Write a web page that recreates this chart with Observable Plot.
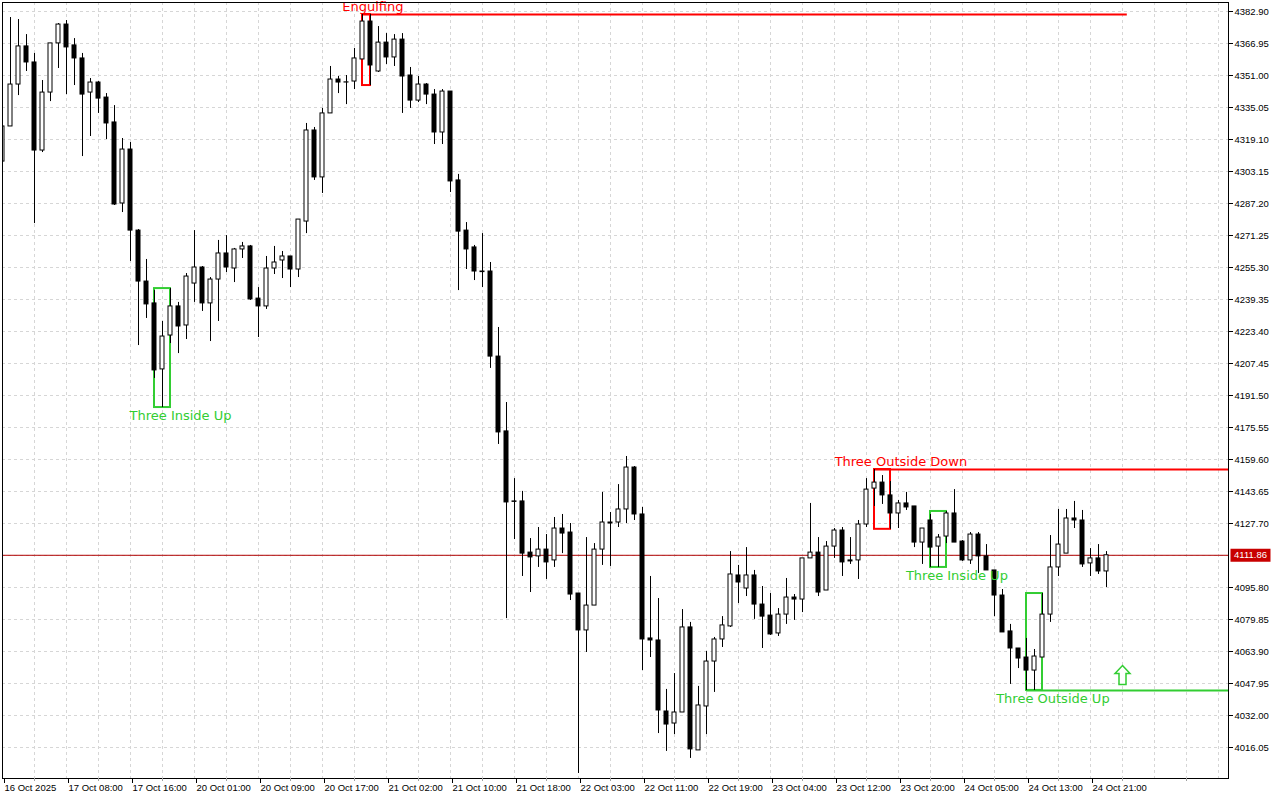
<!DOCTYPE html>
<html>
<head>
<meta charset="utf-8">
<script src="https://cdn.jsdelivr.net/npm/d3@7"></script>
<script src="https://cdn.jsdelivr.net/npm/@observablehq/plot@0.6"></script>
<style>
  html, body { margin: 0; padding: 0; background: #ffffff; }
  #chart svg { display: block; }
</style>
</head>
<body>
<div id="chart"></div>
<script>
// ---- Hourly OHLC bars (bar index 0 .. 138) ----
const opens = [
4308.1,4325.6,4346.5,4365.5,4357.5,4313.6,4342.5,4367.0,4376.4,4366.0,
4359.5,4342.5,4347.5,4340.0,4327.6,4287.2,4314.1,4273.7,4248.3,4237.4,
4204.5,4221.4,4235.9,4226.4,4247.3,4255.3,4237.4,4249.3,4262.3,4254.8,
4264.3,4265.8,4239.8,4235.9,4254.8,4258.8,4260.8,4254.3,4278.2,4323.6,
4300.2,4332.1,4349.0,4347.5,4348.0,4359.0,4377.9,4353.0,4367.4,4360.0,
4368.9,4351.0,4338.5,4346.5,4341.5,4322.6,4343.0,4298.7,4273.7,4265.3,
4253.3,4253.3,4210.9,4173.6,4138.7,4138.7,4113.2,4111.3,4114.7,4109.3,
4125.2,4123.2,4092.8,4074.4,4086.8,4114.7,4128.2,4128.2,4134.7,4155.6,
4132.2,4070.4,4069.4,4034.0,4028.0,4033.5,4075.9,4014.6,4036.5,4058.9,
4069.9,4076.4,4101.8,4095.3,4101.8,4087.3,4081.8,4072.9,4082.3,4090.8,
4089.8,4110.3,4113.2,4094.3,4116.2,4124.2,4109.3,4109.3,4127.2,4145.1,
4148.1,4141.7,4132.7,4137.7,4136.2,4118.2,4129.2,4116.2,4121.2,4132.7,
4118.7,4109.3,4122.2,4111.3,4104.3,4091.8,4073.9,4065.4,4060.9,4054.4,
4060.9,4082.3,4105.8,4112.7,4130.2,4129.2,4107.8,4110.3,4103.8
];
const highs = [
4328.6,4379.9,4378.9,4371.4,4362.0,4348.5,4367.0,4376.9,4378.4,4369.4,
4362.0,4349.5,4348.0,4342.0,4336.0,4319.6,4317.6,4274.2,4259.3,4243.8,
4228.4,4244.8,4237.9,4252.3,4273.7,4255.8,4250.3,4268.8,4271.2,4264.8,
4267.8,4266.3,4245.3,4260.8,4265.8,4263.3,4260.8,4279.2,4327.1,4325.1,
4334.6,4355.5,4350.5,4351.0,4364.5,4381.4,4381.4,4375.4,4371.9,4371.4,
4371.9,4355.0,4350.5,4347.0,4344.0,4344.0,4343.0,4301.7,4277.7,4266.3,
4272.2,4257.8,4225.4,4188.0,4150.1,4143.7,4120.2,4125.7,4122.2,4130.7,
4132.2,4127.7,4092.8,4120.7,4117.7,4143.2,4133.2,4147.1,4161.1,4156.1,
4135.7,4101.3,4090.3,4045.0,4052.9,4084.8,4078.4,4046.5,4063.9,4070.9,
4081.3,4113.7,4106.8,4115.7,4104.3,4096.3,4092.8,4085.3,4100.3,4092.3,
4110.3,4137.7,4120.7,4118.7,4125.2,4125.7,4120.7,4129.2,4150.1,4154.6,
4151.6,4148.6,4139.2,4143.2,4136.2,4125.2,4132.2,4122.2,4133.7,4144.6,
4119.2,4123.2,4123.2,4117.2,4104.3,4094.8,4077.4,4065.4,4070.4,4064.9,
4092.8,4121.7,4134.7,4134.7,4138.7,4134.2,4115.2,4117.2,4113.7
];
const lows = [
4307.6,4325.6,4341.0,4353.0,4277.2,4312.6,4338.0,4354.5,4341.5,4346.0,
4310.6,4320.6,4332.1,4319.1,4286.2,4282.7,4258.3,4216.4,4229.9,4200.0,
4185.5,4217.4,4212.4,4219.4,4237.9,4233.4,4218.4,4228.4,4252.8,4247.8,
4259.8,4238.9,4220.4,4234.4,4251.8,4249.8,4245.3,4250.3,4272.2,4298.7,
4292.2,4332.1,4342.0,4336.5,4344.0,4359.0,4346.0,4352.5,4356.5,4355.5,
4332.1,4334.6,4337.5,4336.5,4316.6,4316.6,4292.7,4243.8,4254.3,4248.8,
4245.3,4205.0,4167.1,4080.3,4119.7,4101.3,4093.3,4105.8,4099.8,4105.8,
4112.7,4089.3,4003.1,4063.4,4086.8,4106.8,4106.3,4125.7,4127.7,4129.2,
4054.4,4060.9,4023.0,4014.1,4022.5,4033.5,4010.6,4014.6,4022.5,4043.5,
4065.9,4075.9,4087.8,4091.3,4079.9,4065.4,4071.9,4071.4,4077.4,4079.4,
4083.3,4110.3,4091.3,4094.3,4110.3,4101.3,4107.3,4099.8,4125.7,4136.2,
4137.2,4124.8,4125.2,4134.2,4115.7,4107.3,4105.8,4105.8,4117.7,4118.2,
4108.8,4107.3,4102.8,4104.3,4081.3,4073.4,4047.5,4055.4,4044.5,4044.5,
4060.9,4078.4,4101.3,4112.7,4125.2,4105.8,4101.3,4102.3,4095.8
];
const closes = [
4325.6,4346.5,4365.5,4357.5,4313.6,4342.5,4367.0,4376.4,4365.0,4359.5,
4341.5,4347.5,4339.5,4327.1,4286.7,4314.1,4273.7,4248.3,4236.9,4204.0,
4220.9,4235.9,4225.9,4250.8,4255.3,4237.4,4249.3,4262.3,4255.3,4264.3,
4265.8,4239.4,4235.9,4254.8,4257.8,4260.8,4254.3,4279.2,4323.6,4300.2,
4332.1,4349.0,4347.5,4347.6,4359.5,4377.9,4356.0,4367.4,4360.0,4368.9,
4350.5,4338.5,4346.5,4341.5,4322.6,4343.0,4298.2,4273.2,4264.3,4253.3,
4253.0,4210.9,4173.1,4138.2,4138.5,4112.7,4110.8,4114.7,4108.3,4125.2,
4122.7,4092.3,4074.4,4086.8,4114.7,4128.2,4127.7,4134.7,4155.6,4132.2,
4069.9,4069.4,4034.5,4027.5,4033.5,4075.9,4015.1,4037.0,4058.9,4069.9,
4076.9,4102.3,4098.3,4101.8,4087.3,4081.3,4072.4,4082.3,4090.8,4089.8,
4110.3,4113.2,4093.3,4116.2,4124.2,4108.3,4108.8,4127.2,4144.6,4148.1,
4141.7,4132.7,4137.7,4135.7,4118.2,4125.2,4115.7,4120.7,4132.7,4118.2,
4109.3,4122.2,4111.3,4104.3,4091.8,4073.4,4065.4,4060.4,4054.4,4061.4,
4082.3,4105.8,4117.2,4130.2,4129.2,4107.3,4110.3,4103.8,4111.86
];

// ---- Time axis labels (bar index of each label) ----
const timeLabelBars = [0, 8, 16, 24, 32, 40, 48, 56, 64, 72, 80, 88, 96, 104, 112, 120, 128, 136];
const timeLabels = [
  "16 Oct 2025", "17 Oct 08:00", "17 Oct 16:00", "20 Oct 01:00", "20 Oct 09:00",
  "20 Oct 17:00", "21 Oct 02:00", "21 Oct 10:00", "21 Oct 18:00", "22 Oct 03:00",
  "22 Oct 11:00", "22 Oct 19:00", "23 Oct 04:00", "23 Oct 12:00", "23 Oct 20:00",
  "24 Oct 05:00", "24 Oct 13:00", "24 Oct 21:00"
];

// ---- Price axis ticks ----
const priceTicks = [
  4382.90, 4366.95, 4351.00, 4335.05, 4319.10, 4303.15, 4287.20, 4271.25,
  4255.30, 4239.35, 4223.40, 4207.45, 4191.50, 4175.55, 4159.60, 4143.65,
  4127.70, 4111.75, 4095.80, 4079.85, 4063.90, 4047.95, 4032.00, 4016.05
];
const lastPrice = 4111.86;

// ---- Candlestick patterns ----
const patternNames = ["Engulfing", "Three Inside Up", "Three Outside Down", "Three Inside Up", "Three Outside Up"];
const patternStart = [45, 19, 109, 116, 128];
const patternEnd   = [46, 21, 111, 118, 130];
const patternHigh  = [4381.4, 4244.8, 4154.6, 4133.7, 4092.8];
const patternLow   = [4346.0, 4185.5, 4124.8, 4105.8, 4044.5];
const patternBias  = ["bear", "bull", "bear", "bull", "bull"];
const patternLevelUntil = [140.6, null, 153.25, null, 153.25];
const patternLabelBar = [46.3, 22.25, 112.3, 119.3, 131.3];

// ---- Signal arrow ----
const signalBar = [140];
const signalPrice = [4052.2];

// ---- Build tables ----
const candles = opens.map((o, i) => ({
  i, open: o, high: highs[i], low: lows[i], close: closes[i], up: closes[i] >= o
}));
const RED = "#ff0000", GREEN = "#32cd32";
const patterns = patternNames.map((name, k) => ({
  name, start: patternStart[k], end: patternEnd[k],
  high: patternHigh[k], low: patternLow[k], bias: patternBias[k],
  until: patternLevelUntil[k], labelBar: patternLabelBar[k],
  color: patternBias[k] === "bear" ? RED : GREEN,
  level: patternBias[k] === "bear" ? patternHigh[k] : patternLow[k]
}));
const signals = signalBar.map((b, k) => ({bar: b, price: signalPrice[k]}));

// custom symbols
const arrowSymbol = {
  draw(ctx, size) {
    const k = Math.sqrt(size / Math.PI) / 10;
    ctx.moveTo(0, -9.5 * k);
    ctx.lineTo(7.5 * k, -1.5 * k);
    ctx.lineTo(3.5 * k, -1.5 * k);
    ctx.lineTo(3.5 * k, 9.5 * k);
    ctx.lineTo(-3.5 * k, 9.5 * k);
    ctx.lineTo(-3.5 * k, -1.5 * k);
    ctx.lineTo(-7.5 * k, -1.5 * k);
    ctx.closePath();
  }
};
const tagSymbol = {
  draw(ctx) { ctx.rect(-20, -6.5, 40, 13); }
};

const plot = Plot.plot({
  width: 1280,
  height: 800,
  marginLeft: 2,
  marginRight: 52,
  marginTop: 2,
  marginBottom: 22,
  style: {fontFamily: "'Liberation Sans', Arial, sans-serif", fontSize: "9.5px", background: "#ffffff", color: "#000000"},
  x: {domain: [0, 153.25], label: null},
  y: {domain: [4000.6, 4387.39], label: null},
  color: {type: "identity"},
  marks: [
    Plot.gridX({ticks: d3.range(0, 154, 4), stroke: "#d6d6d6", strokeOpacity: 1, strokeDasharray: "3,3"}),
    Plot.gridY({ticks: priceTicks, stroke: "#d6d6d6", strokeOpacity: 1, strokeDasharray: "3,3"}),
    Plot.ruleY([lastPrice], {stroke: "#b00000", strokeWidth: 1}),
    // pattern level lines
    Plot.ruleY(patterns.filter(p => p.until != null), {y: "level", x1: "start", x2: "until", stroke: "color", strokeWidth: 2, clip: true}),
    // pattern boxes
    Plot.rect(patterns, {x1: "start", x2: "end", y1: "low", y2: "high", fill: "none", stroke: "color", strokeWidth: 2}),
    // candles
    Plot.ruleX(candles, {x: "i", y1: "low", y2: "high", stroke: "#000000", clip: true}),
    Plot.rect(candles, {
      x1: d => d.i - 0.25, x2: d => d.i + 0.25, y1: "open", y2: "close",
      fill: d => d.up ? "#ffffff" : "#000000", stroke: "#000000", strokeWidth: 1, clip: true
    }),
    // pattern labels
    Plot.text(patterns.filter(p => p.bias === "bear"), {
      x: "labelBar", y: "high", text: "name", fill: "color", dy: -8, lineAnchor: "middle",
      fontFamily: "'DejaVu Sans', sans-serif", fontSize: 13
    }),
    Plot.text(patterns.filter(p => p.bias === "bull"), {
      x: "labelBar", y: "low", text: "name", fill: "color", dy: 8, lineAnchor: "middle",
      fontFamily: "'DejaVu Sans', sans-serif", fontSize: 13
    }),
    // signal arrow
    Plot.dot(signals, {x: "bar", y: "price", r: 10, symbol: arrowSymbol, fill: "#ffffff", stroke: GREEN, strokeWidth: 1.5}),
    // frame & axes
    Plot.frame({stroke: "#000000"}),
    Plot.axisY({
      anchor: "right", ticks: priceTicks.filter(t => t !== 4111.75),
      tickFormat: d => d.toFixed(2), tickSize: 4, tickPadding: 2, stroke: "#000000", fill: "#000000"
    }),
    Plot.axisX({
      ticks: d3.range(4, 154, 8), tickSize: 3, tickFormat: () => "", stroke: "#a0a0a0"
    }),
    Plot.axisX({
      ticks: timeLabelBars, tickFormat: d => timeLabels[timeLabelBars.indexOf(d)],
      tickSize: 5, tickPadding: 1, textAnchor: "start", dx: 2, stroke: "#000000", fill: "#000000"
    }),
    // last price tag
    Plot.dot([lastPrice], {y: d => d, frameAnchor: "right", dx: 22, symbol: tagSymbol, fill: "#c80000", stroke: "none"}),
    Plot.text([lastPrice], {y: d => d, text: d => d.toFixed(2), frameAnchor: "right", dx: 22, fill: "#ffffff", textAnchor: "middle"})
  ]
});
document.getElementById("chart").appendChild(plot);
</script>
</body>
</html>
